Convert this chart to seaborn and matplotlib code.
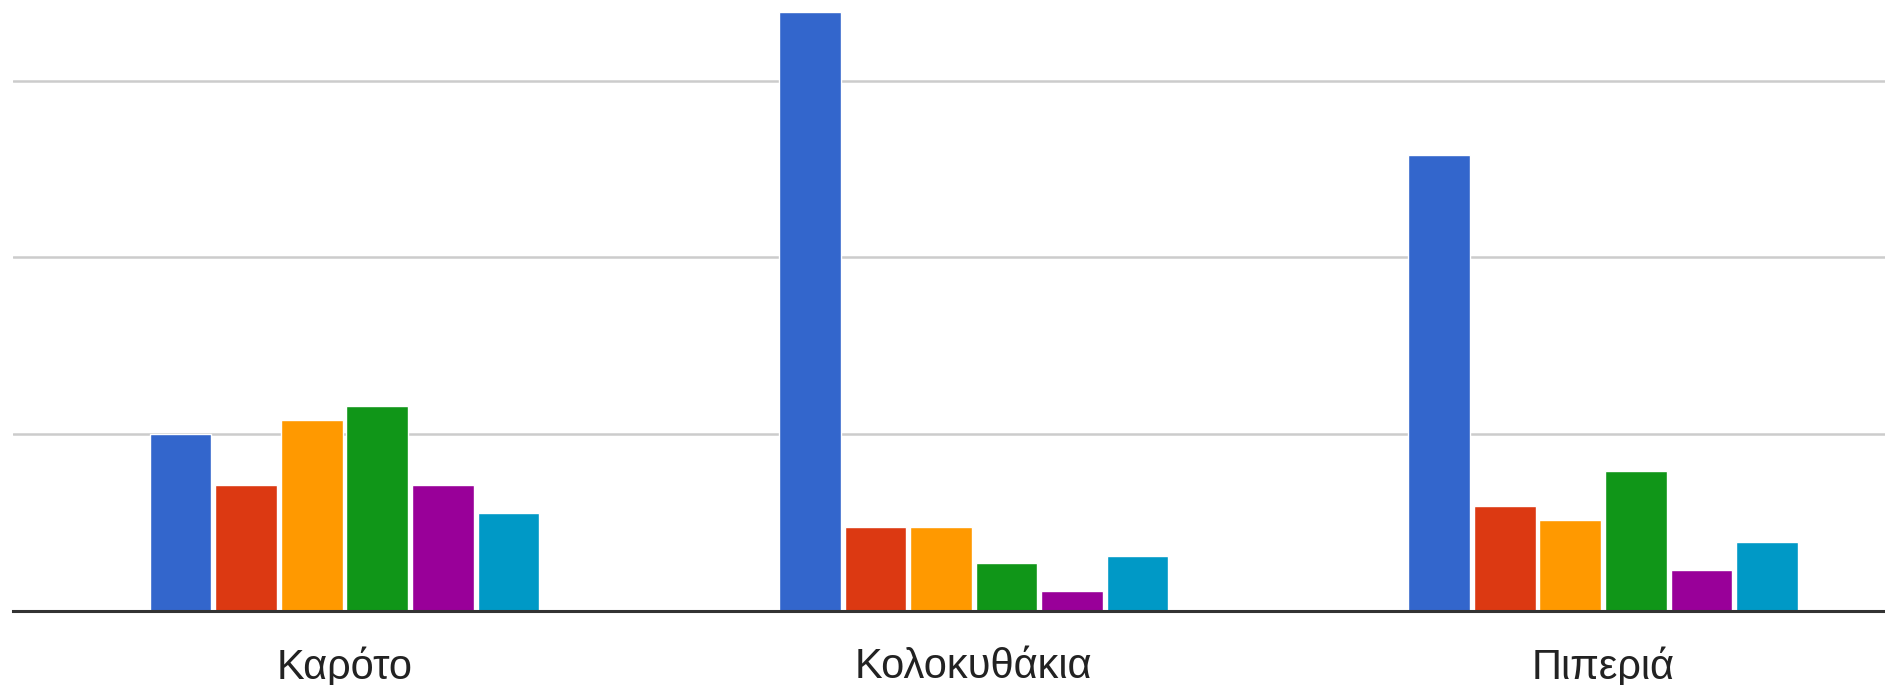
import matplotlib
matplotlib.use("Agg")
import matplotlib.pyplot as plt
import seaborn as sns
import pandas as pd

# Vegetables on the x axis
categories = ["Καρότο", "Κολοκυθάκια", "Πιπεριά"]

# One list per series, one value per vegetable
series_names = ["Σειρά 1", "Σειρά 2", "Σειρά 3", "Σειρά 4", "Σειρά 5", "Σειρά 6"]
series_1 = [10.0, 33.9, 25.8]
series_2 = [7.1, 4.7, 5.9]
series_3 = [10.8, 4.7, 5.1]
series_4 = [11.6, 2.7, 7.9]
series_5 = [7.1, 1.1, 2.3]
series_6 = [5.5, 3.1, 3.9]

grid_values = [10, 20, 30]

palette = ["#3366cc", "#dc3912", "#ff9900", "#109618", "#990099", "#0099c6"]

all_series = [series_1, series_2, series_3, series_4, series_5, series_6]
rows = []
for name, vals in zip(series_names, all_series):
    for cat, v in zip(categories, vals):
        rows.append({"category": cat, "series": name, "value": v})
df = pd.DataFrame(rows)

sns.set_theme(style="white")
plt.rcParams["font.family"] = ["Liberation Sans", "DejaVu Sans"]

W, H = 1885, 685
fig = plt.figure(figsize=(W / 100, H / 100), dpi=100)
left_px, base_px = 12.5, 610.5
ax = fig.add_axes([left_px / W, (H - base_px) / H, 1 - left_px / W, base_px / H])

sns.barplot(
    data=df, x="category", y="value", hue="series",
    order=categories, hue_order=series_names,
    palette=palette, saturation=1, width=0.625, gap=0.06,
    legend=False, ax=ax,
)

ax.set_xlim(-0.5276, 2.448)
ax.set_ylim(0, 34.57)
ax.set_yticks(grid_values)
ax.set_yticklabels([])
ax.tick_params(axis="y", length=0)
ax.tick_params(axis="x", length=0, pad=26, labelsize=30, labelcolor="#222222")
ax.yaxis.grid(True, color="#cccccc", linewidth=1.8)
ax.xaxis.grid(False)
ax.set_axisbelow(True)
ax.set_xlabel("")
ax.set_ylabel("")

for side in ["top", "right", "left"]:
    ax.spines[side].set_visible(False)
ax.spines["bottom"].set_color("#333333")
ax.spines["bottom"].set_linewidth(2.2)
ax.spines["bottom"].set_zorder(5)

fig.savefig("out.png", dpi=100, facecolor="white")
